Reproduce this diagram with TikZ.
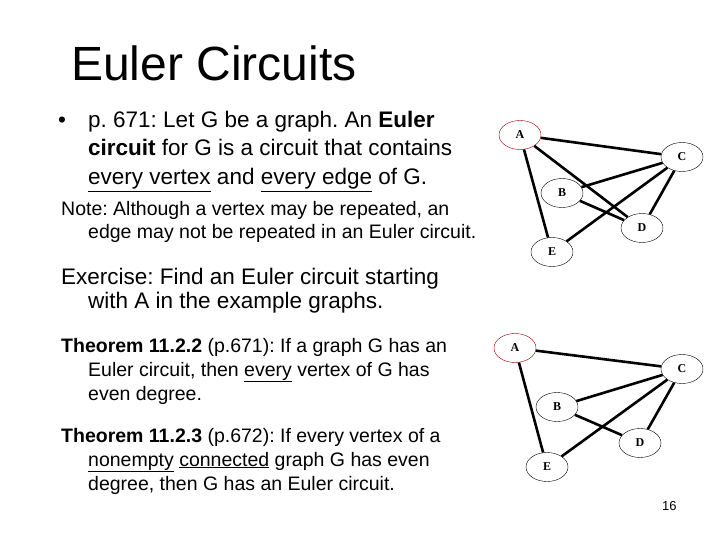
\documentclass[tikz,border=0pt]{standalone}
\usepackage{fontspec}
\setmainfont{Liberation Sans}
\newfontfamily\serifb{Liberation Serif}
\usetikzlibrary{shapes.geometric}
\frenchspacing
\tikzset{
 txt/.style={anchor=base west,inner sep=0pt},
 v/.style={ellipse,draw=black,line width=0.4pt,minimum width=42pt,minimum height=29pt,inner sep=0pt,font=\serifb\bfseries\fontsize{12}{12}\selectfont},
 va/.style={v,draw=red!60!black},
 e/.style={line width=2.6pt},
 big/.style={font=\fontsize{22.5}{22.5}\selectfont},
 med/.style={font=\fontsize{19.5}{19.5}\selectfont},
}
\begin{document}
\begin{tikzpicture}[x=1pt,y=-1pt]
\useasboundingbox[fill=white] (0,0) rectangle (720,540);
\node[txt,font=\fontsize{48}{48}\selectfont] (title) at (71,81) {Euler Circuits};
\node[txt,big] (bul) at (58,128) {•};
\node[txt,big] (l1) at (88,128) {p. 671: Let G be a graph. An \textbf{Euler}};
\node[txt,big] (l2) at (88,156) {\textbf{circuit} for G is a circuit that contains};
\node[txt,big] (l3) at (88,185) {\underline{every vertex} and \underline{every edge} of G.};
\node[txt,med] (n1) at (61,215) {Note: Although a vertex may be repeated, an};
\node[txt,med] (n2) at (88,239) {edge may not be repeated in an Euler circuit.};
\node[txt,big] (x1) at (61,284) {Exercise: Find an Euler circuit starting};
\node[txt,big] (x2) at (88,308) {with A in the example graphs.};
\node[txt,med] (t1) at (61,352) {\textbf{Theorem 11.2.2} (p.671): If a graph G has an};
\node[txt,med] (t2) at (88,376) {Euler circuit, then \underline{every} vertex of G has};
\node[txt,med] (t3) at (88,400) {even degree.};
\node[txt,med] (s1) at (61,442) {\textbf{Theorem 11.2.3} (p.672): If every vertex of a};
\node[txt,med] (s2) at (88,466) {\underline{nonempty} \underline{connected} graph G has even};
\node[txt,med] (s3) at (88,490) {degree, then G has an Euler circuit.};
\node[txt,font=\fontsize{13}{13}\selectfont] (pg) at (662,510) {16};
% graph 1
\node[va] (A1) at (520,135) {A};
\node[v] (C1) at (682,157) {C};
\node[v] (B1) at (562,193) {B};
\node[v] (D1) at (642,228) {D};
\node[v] (E1) at (552,252) {E};
\draw[e] (A1)--(C1) (A1)--(D1) (A1)--(E1) (C1)--(B1) (C1)--(E1) (C1)--(D1) (B1)--(D1);
% graph 2
\node[va] (A2) at (515,348) {A};
\node[v] (C2) at (682,369) {C};
\node[v] (B2) at (557,407) {B};
\node[v] (D2) at (640,443) {D};
\node[v] (E2) at (547,467) {E};
\draw[e] (A2)--(C2) (A2)--(E2) (C2)--(B2) (C2)--(E2) (C2)--(D2) (B2)--(D2);
\end{tikzpicture}
\end{document}
